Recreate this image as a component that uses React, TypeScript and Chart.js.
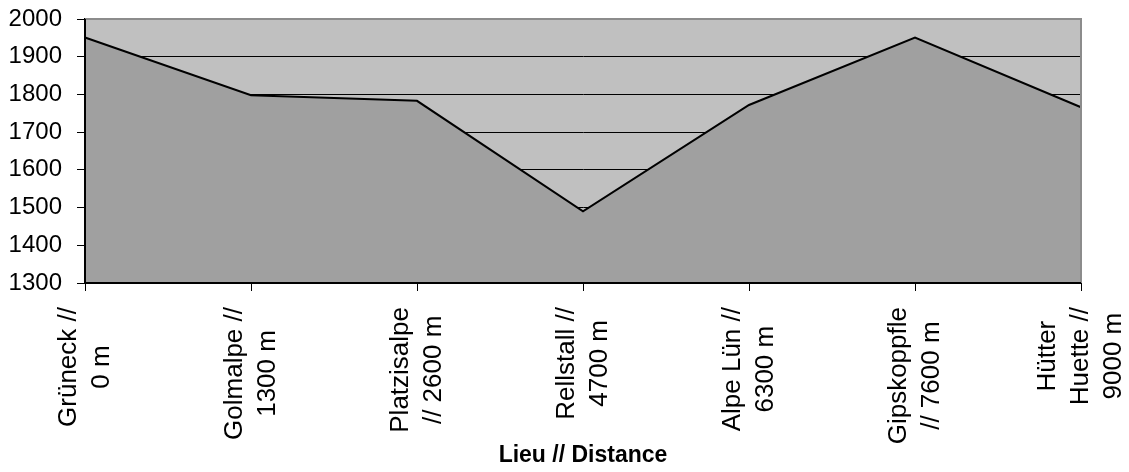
import React, { useEffect, useRef } from "react";
import { Chart, registerables } from "chart.js";

Chart.register(...registerables);

const labelLines: string[][] = [
  ["Grüneck //", "0 m"],
  ["Golmalpe //", "1300 m"],
  ["Platzisalpe", "// 2600 m"],
  ["Rellstall //", "4700 m"],
  ["Alpe Lün //", "6300 m"],
  ["Gipskoppfle", "// 7600 m"],
  ["Hütter", "Huette //", "9000 m"],
];
const altitudes: number[] = [1951, 1798, 1783, 1490, 1772, 1951, 1766];
const yMin = 1300;
const yMax = 2000;
const yStep = 100;
const xTitle = "Lieu // Distance";

const FONT = "'Liberation Sans', Arial, sans-serif";

const bgPlugin = {
  id: "plotBg",
  beforeDraw(chart: any) {
    const { ctx, chartArea } = chart;
    ctx.save();
    ctx.fillStyle = "#C0C0C0";
    ctx.fillRect(chartArea.left, chartArea.top, chartArea.right - chartArea.left, chartArea.bottom - chartArea.top);
    ctx.restore();
  },
  afterDatasetsDraw(chart: any) {
    const { ctx, chartArea } = chart;
    const { left, right, top, bottom } = chartArea;
    ctx.save();
    ctx.lineWidth = 2;
    ctx.strokeStyle = "#8C8C8C";
    ctx.beginPath();
    ctx.moveTo(left, top);
    ctx.lineTo(right, top);
    ctx.lineTo(right, bottom);
    ctx.stroke();
    ctx.strokeStyle = "#000000";
    ctx.beginPath();
    ctx.moveTo(left, top);
    ctx.lineTo(left, bottom);
    ctx.lineTo(right, bottom);
    ctx.stroke();
    ctx.restore();
  },
  afterDraw(chart: any) {
    const { ctx } = chart;
    const xs = chart.scales.x;
    ctx.save();
    ctx.font = `26px ${FONT}`;
    ctx.fillStyle = "#000000";
    ctx.textAlign = "center";
    ctx.textBaseline = "middle";
    const lineGap = 33;
    const topY = 307;
    labelLines.forEach((lines, i) => {
      const x = xs.getPixelForValue(i);
      const maxW = Math.max(...lines.map((l) => ctx.measureText(l).width));
      ctx.save();
      ctx.translate(x, topY + maxW / 2);
      ctx.rotate(-Math.PI / 2);
      lines.forEach((l, j) => {
        ctx.fillText(l, 0, (j - (lines.length - 1) / 2) * lineGap);
      });
      ctx.restore();
    });
    ctx.restore();
  },
};

export default function App() {
  const ref = useRef<HTMLCanvasElement | null>(null);
  useEffect(() => {
    if (!ref.current) return;
    const chart = new Chart(ref.current, {
      type: "line",
      data: {
        labels: labelLines.map((l) => l.join(" ")),
        datasets: [
          {
            data: altitudes,
            borderColor: "#000000",
            borderWidth: 2,
            backgroundColor: "#A0A0A0",
            fill: "start",
            tension: 0,
            pointRadius: 0,
          },
        ],
      },
      options: {
        responsive: false,
        animation: false,
        devicePixelRatio: 1,
        layout: { padding: { top: 19, right: 48, left: 0, bottom: 0 } },
        plugins: {
          legend: { display: false },
          tooltip: { enabled: false },
        },
        scales: {
          x: {
            type: "category",
            offset: false,
            afterFit(scale: any) {
              scale.height = 189;
            },
            grid: {
              drawOnChartArea: false,
              drawTicks: true,
              tickLength: 8,
              color: "#000000",
              lineWidth: 1,
            },
            border: { display: true, color: "#000000", width: 2 },
            ticks: { display: false },
            title: {
              display: true,
              text: xTitle,
              color: "#000000",
              font: { family: FONT, size: 23, weight: "bold" },
              padding: { top: 0, bottom: 3 },
            },
          },
          y: {
            min: yMin,
            max: yMax,
            afterFit(scale: any) {
              scale.width = 85;
            },
            grid: {
              color: (c: any) => (c.tick && c.tick.value === yMax ? "#8C8C8C" : "#000000"),
              tickColor: "#000000",
              lineWidth: 1,
              tickLength: 8,
            },
            border: { display: true, color: "#000000", width: 2 },
            ticks: {
              stepSize: yStep,
              color: "#000000",
              padding: 15,
              font: { family: FONT, size: 24, lineHeight: 0.3 },
              callback: (v: any) => String(v),
            },
          },
        },
      },
      plugins: [bgPlugin],
    });
    return () => chart.destroy();
  }, []);
  return (
    <div style={{ position: "fixed", left: 0, top: 0, width: 1129, height: 472, background: "#ffffff" }}>
      <canvas ref={ref} width={1129} height={472} style={{ display: "block" }} />
    </div>
  );
}
